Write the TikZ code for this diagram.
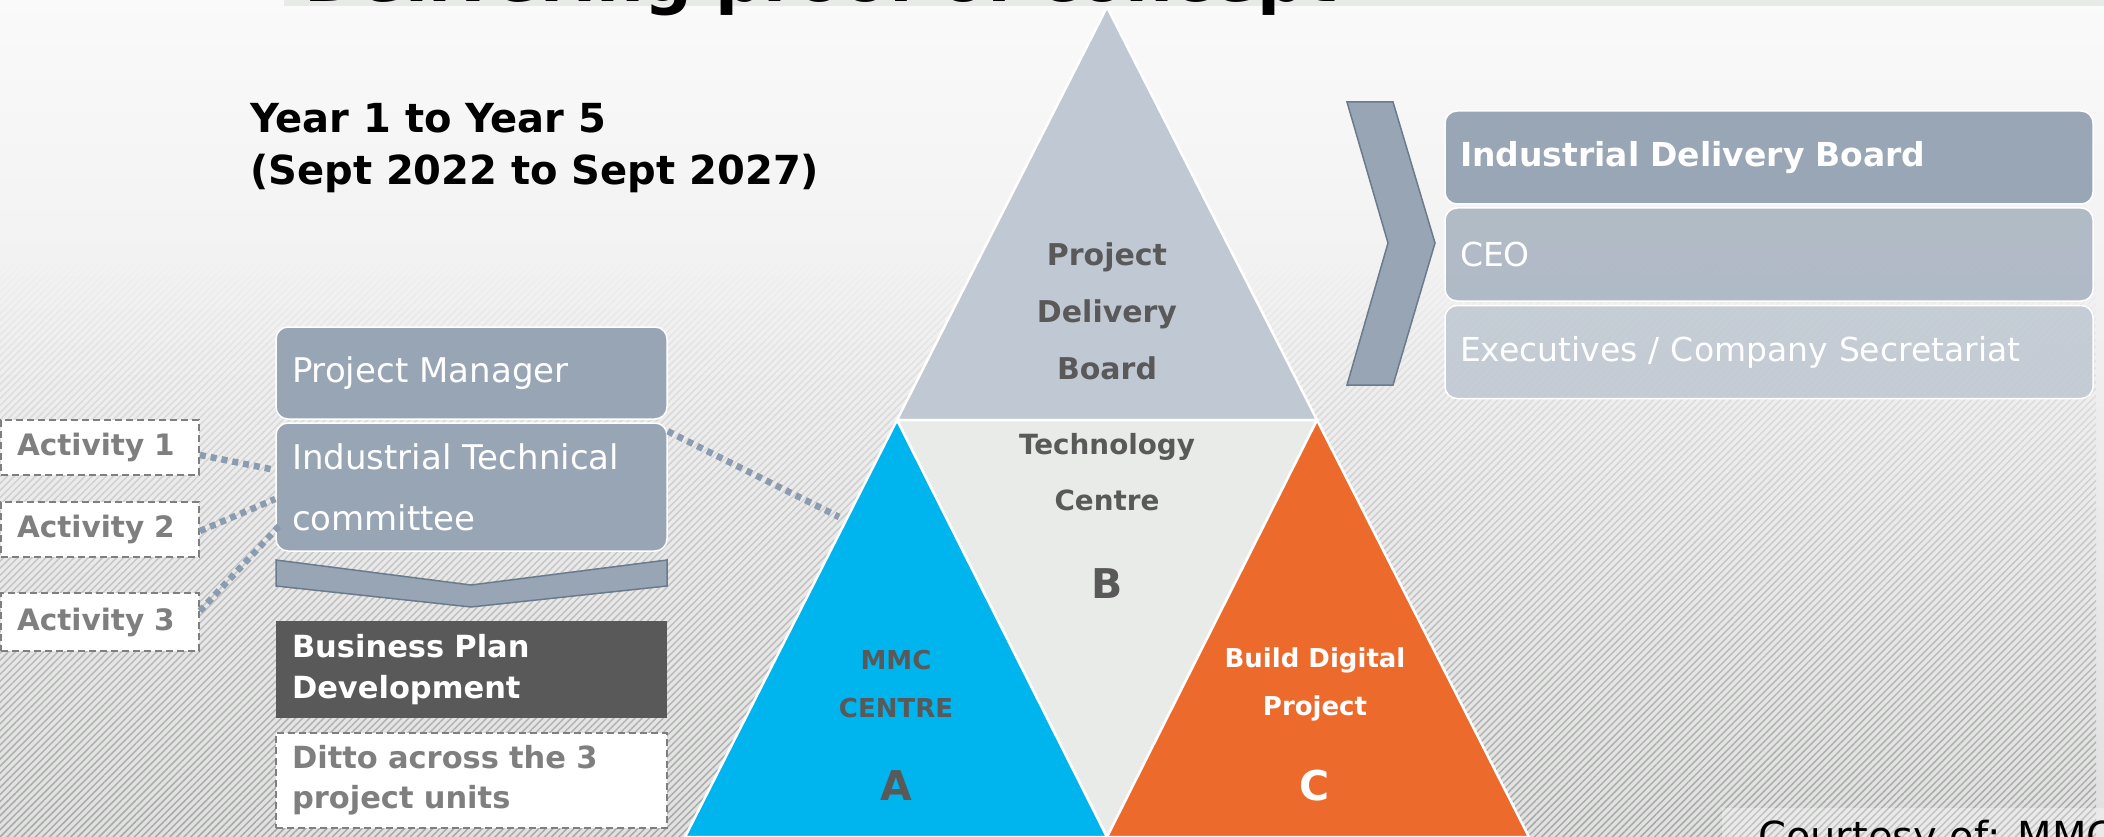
\documentclass[tikz,border=0pt]{standalone}
\usepackage{fontspec}
\setmainfont{DejaVu Sans}
\usetikzlibrary{patterns.meta,fadings}
\definecolor{slate}{HTML}{97A5B5}
\definecolor{slatedark}{HTML}{6B7B8C}
\definecolor{dotc}{HTML}{8C9CB0}
\definecolor{tritop}{HTML}{C0C8D3}
\definecolor{trimid}{HTML}{E9EBE8}
\definecolor{triblue}{HTML}{00B4ED}
\definecolor{triorange}{HTML}{EC6A2C}
\definecolor{txtgray}{HTML}{595959}
\definecolor{actgray}{HTML}{7F7F7F}
\definecolor{bpdark}{HTML}{595959}
\definecolor{idbfill}{HTML}{98A6B6}
\definecolor{ceofill}{HTML}{AAB5C2}
\definecolor{execfill}{HTML}{BEC7D1}
\definecolor{hatch}{HTML}{A6A9A6}
\definecolor{titlebar}{HTML}{E8EAE8}
\begin{document}
\begin{tikzpicture}[x=1pt,y=-1pt,
  lbox/.style={rectangle, rounded corners=12pt, draw=white, line width=1.5pt,
    fill=slate, inner ysep=0pt, inner xsep=16pt, text width=359pt,
    align=left, text=white, font=\fontsize{34}{61}\selectfont},
  sqbox/.style={rectangle, inner ysep=0pt, inner xsep=16pt, text width=359pt,
    minimum height=96pt, align=left, font=\fontsize{30.5}{41}\selectfont\bfseries},
  actbox/.style={rectangle, draw=actgray, dash pattern=on 7pt off 4pt, line width=1.8pt, fill=white,
    inner ysep=0pt, inner xsep=16pt, text width=166pt, align=left,
    text=actgray, font=\fontsize{29.5}{36}\selectfont\bfseries},
  rbox/.style={rectangle, rounded corners=12pt, draw=white, line width=1.5pt,
    inner ysep=0pt, inner xsep=15pt, text width=618pt, minimum height=93pt,
    align=left, text=white, font=\fontsize{33}{40}\selectfont},
  dotline/.style={dotc, line width=6.5pt, dash pattern=on 6pt off 5pt},
  tri/.style={draw=white, line width=2.5pt, line join=round},
  trilbl/.style={inner sep=0pt, align=center, font=\bfseries},
  chev/.style={fill=slate, draw=slatedark, line width=1.5pt, line join=miter}
]
\useasboundingbox (0,0) rectangle (2104,837);
\clip (0,0) rectangle (2104,837);
% background
\fill[top color=white!98!black, bottom color=white!88!black] (0,0) rectangle (2104,837);
\fill[pattern={Lines[angle=45,distance=5pt,line width=1.5pt]}, pattern color=hatch,
  path fading=north] (0,260) rectangle (2104,837);
% title
\fill[titlebar] (284,-10) rectangle (2104,6);
\node[anchor=base west, inner sep=0pt, font=\fontsize{67}{72}\selectfont\bfseries] (title) at (304,1.5) {Delivering proof of concept};
% period
\node[anchor=base west, inner sep=0pt, align=left, font=\fontsize{40}{52}\selectfont\bfseries] (period) at (250,185) {Year 1 to Year 5\\(Sept 2022 to Sept 2027)};
% triangles
\path[tri, fill=tritop] (1107,7) -- (1317,420) -- (897,420) -- cycle;
\path[tri, fill=trimid] (897,420) -- (1317,420) -- (1107,837) -- cycle;
\path[tri, fill=triblue] (897,420) -- (1107,837) -- (685,837) -- cycle;
\path[tri, fill=triorange] (1317,420) -- (1529,837) -- (1107,837) -- cycle;
\node[trilbl, text=txtgray, font=\fontsize{30}{57}\selectfont\bfseries] (pdb) at (1107,311) {Project\\Delivery\\Board};
\node[trilbl, text=txtgray, font=\fontsize{27.8}{56}\selectfont\bfseries] (tc) at (1107,472) {Technology\\Centre};
\node[trilbl, text=txtgray, font=\fontsize{41}{48}\selectfont\bfseries] (lb) at (1107,584) {B};
\node[trilbl, text=txtgray, font=\fontsize{26}{48}\selectfont\bfseries] (mmc) at (896,684) {MMC\\CENTRE};
\node[trilbl, text=txtgray, font=\fontsize{41}{48}\selectfont\bfseries] (la) at (896,786) {A};
\node[trilbl, text=white, font=\fontsize{26}{48}\selectfont\bfseries] (bdp) at (1315,684) {Build Digital\\Project};
\node[trilbl, text=white, font=\fontsize{41}{48}\selectfont\bfseries] (lc) at (1315,786) {C};
% left column
\node[lbox, minimum height=92pt] (pm) at (471.5,373) {Project Manager};
\node[lbox, minimum height=128pt] (itc) at (471.5,487) {Industrial Technical\\committee};
\path[chev] (276,560) -- (471,585) -- (667,560) -- (667,586) -- (471,607) -- (276,586) -- cycle;
\node[sqbox, fill=bpdark, text=white, minimum height=97pt] (bp) at (471.5,669.5) {Business Plan\\Development};
\node[sqbox, fill=white, draw=actgray, dash pattern=on 7pt off 4pt, line width=1.8pt, text=actgray, minimum height=95pt, font=\fontsize{30.5}{40}\selectfont\bfseries] (ditto) at (471.5,780.5) {Ditto across the 3\\project units};
% activities
\node[actbox, minimum height=55pt] (act1) at (100,447.5) {Activity 1};
\node[actbox, minimum height=55pt] (act2) at (100,529.5) {Activity 2};
\node[actbox, minimum height=58pt] (act3) at (100,622) {Activity 3};
% dotted connectors
\coordinate (tcend) at (839,517);
\draw[dotline] ([yshift=-7.5pt]act1.east) -- ([yshift=17pt]itc.west);
\draw[dotline] ([yshift=-1.5pt]act2.east) -- ([yshift=-12pt]itc.west);
\draw[dotline] ([yshift=11pt]act3.east) -- ([xshift=6pt,yshift=28pt]itc.south west);
\draw[dotline] ([yshift=-9pt]itc.north east) -- (tcend);
% right side
\path[chev] (1347,102) -- (1393,102) -- (1435,243) -- (1393,385) -- (1347,385) -- (1388,243) -- cycle;
\node[rbox, fill=idbfill, font=\fontsize{33}{40}\selectfont\bfseries] (idb) at (1769,157.5) {Industrial Delivery Board};
\node[rbox, fill=ceofill, fill opacity=0.9, text opacity=1] (ceo) at (1769,254.5) {CEO};
\node[rbox, fill=execfill, fill opacity=0.85, text opacity=1] (exec) at (1769,352) {Executives / Company Secretariat};
% courtesy
\fill[white, opacity=0.3] (1722,808) rectangle (2104,850);
\node[anchor=base west, inner sep=0pt, font=\fontsize{40}{48}\selectfont] (court) at (1758,850) {Courtesy of: MMC};
\end{tikzpicture}
\end{document}
